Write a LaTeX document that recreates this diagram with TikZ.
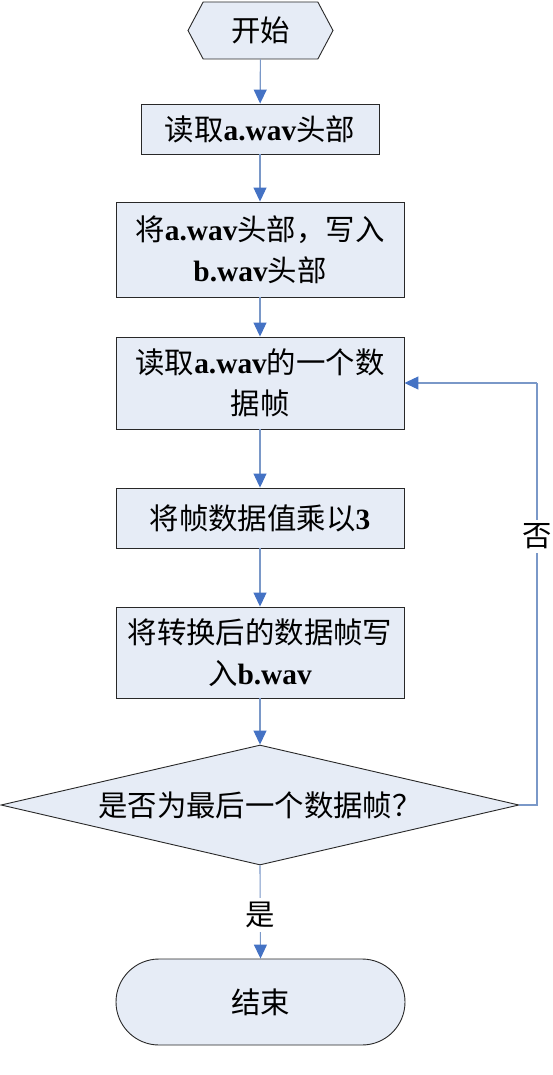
\documentclass[tikz,border=0pt]{standalone}
\usepackage{fontspec}
\setmainfont{Liberation Serif}
\newfontfamily\cjk{Noto Sans CJK SC}
\usetikzlibrary{shapes.geometric,shapes.symbols,arrows.meta}
\definecolor{boxfill}{RGB}{230,236,246}
\definecolor{boxline}{RGB}{40,40,40}
\definecolor{conline}{RGB}{122,152,200}
\definecolor{tipcol}{RGB}{68,114,196}
\newcommand{\bw}[1]{{\rmfamily\bfseries #1}}
\begin{document}
\begin{tikzpicture}[x=1pt,y=-1pt,
  every node/.style={font=\fontsize{29.4}{41}\selectfont\cjk, align=center, inner sep=0pt},
  procbox/.style={draw=boxline, fill=boxfill, line width=0.9pt, minimum width=288pt},
  conn/.style={draw=conline, line width=1.1pt, -{Triangle[width=13pt,length=14pt,color=tipcol]}},
  plainline/.style={draw=conline, line width=1.1pt}
]
\path[fill=white] (0,0) rectangle (553,1075);
\useasboundingbox (0,0) rectangle (553,1075);

\node[draw=boxline, fill=boxfill, line width=0.9pt, shape=signal, signal to=west and east,
  signal pointer angle=124, minimum width=145pt, minimum height=57pt] (start) at (260.5,30.5) {开始};

\node[procbox, minimum width=238pt, minimum height=50pt] (b1) at (260,129) {读取\bw{a.wav}头部};
\node[procbox, minimum height=95pt] (b2) at (260,249.5) {将\bw{a.wav}头部，写入\\\bw{b.wav}头部};
\node[procbox, minimum height=92pt] (b3) at (260,383) {读取\bw{a.wav}的一个数\\据帧};
\node[procbox, minimum height=60pt] (b4) at (260,518) {将帧数据值乘以\bw{3}};
\node[procbox, minimum height=91pt] (b5) at (260,652.5) {将转换后的数据帧写\\入\bw{b.wav}};

\node[draw=boxline, fill=boxfill, line width=0.9pt, shape=diamond, aspect=4.32,
  minimum width=518pt, minimum height=120pt] (dec) at (260,805) {是否为最后一个数据帧？};

\node[draw=boxline, fill=boxfill, line width=0.9pt, rounded corners=43pt,
  minimum width=289pt, minimum height=86pt] (end) at (260.5,1002) {结束};

\draw[conn] (start) -- (b1);
\draw[conn] (b1) -- (b2);
\draw[conn] (b2) -- (b3);
\draw[conn] (b3) -- (b4);
\draw[conn] (b4) -- (b5);
\draw[conn] (b5) -- (dec);
\draw[conn] (dec.south) -- node[pos=0.53, fill=white, inner ysep=4pt] (yes) {是} (end.north);

\coordinate (c1) at (537,805);
\coordinate (c2) at (537,383);
\draw[plainline] (dec.east) -- (c1) -- node[pos=0.637, fill=white, inner ysep=4pt] (no) {否} (c2);
\draw[conn] (c2) -- (b3.east);
\end{tikzpicture}
\end{document}
